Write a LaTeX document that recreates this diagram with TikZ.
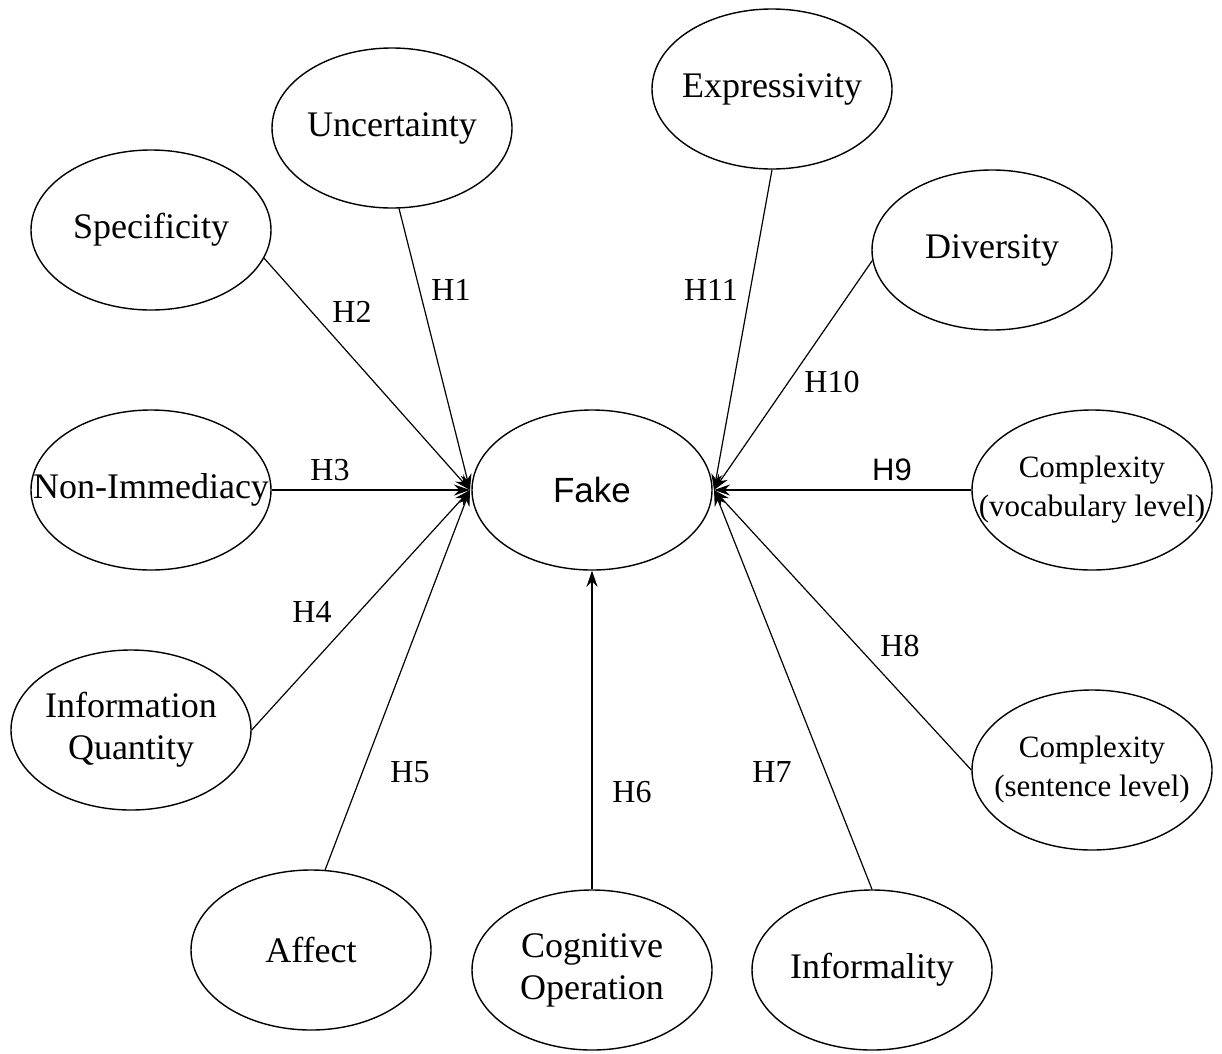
\documentclass[tikz,border=0pt]{standalone}
\usepackage{fontspec}
\setmainfont{Liberation Serif}
\newfontfamily\arialf{Liberation Sans}
\usetikzlibrary{shapes.geometric,arrows.meta}
\begin{document}
\begin{tikzpicture}[x=1pt,y=-1pt,
  var/.style={ellipse,draw,line width=1.4pt,minimum width=240pt,minimum height=160pt,inner sep=0pt,
    label={[align=center,font=\fontsize{36}{42}\selectfont]center:#1}},
  cvar/.style={ellipse,draw,line width=1.4pt,minimum width=240pt,minimum height=160pt,inner sep=0pt,
    label={[align=center,font=\fontsize{31}{39}\selectfont]center:#1}},
  hyp/.style={font=\fontsize{32}{34}\selectfont,inner sep=0pt},
  link/.style={line width=1.2pt,-{Stealth[length=16pt,width=11pt]}}]
\useasboundingbox (0,0) rectangle (1222,1053);
\node[ellipse,draw,line width=1.4pt,minimum width=240pt,minimum height=160pt,inner sep=0pt,font=\arialf\fontsize{35}{38}\selectfont] (fake) at (592,490) {Fake};
\coordinate (L) at (470,490);
\coordinate (R) at (714,490);
\node[var={Uncertainty}] (unc) at (392,128) {};
\node[var={Specificity}] (spec) at (151,230) {};
\node[var={Non-Immediacy}] (nonimm) at (151,490) {};
\node[var={Information\\Quantity}] (info) at (131,730) {};
\node[var={Affect}] (aff) at (311,950) {};
\node[var={Cognitive\\Operation}] (cog) at (592,970) {};
\node[var={Informality}] (infor) at (872,970) {};
\node[cvar={Complexity\\(sentence level)}] (csent) at (1092,770) {};
\node[cvar={Complexity\\(vocabulary level)}] (cvoc) at (1092,490) {};
\node[var={Diversity}] (div) at (992,250) {};
\node[var={Expressivity}] (expr) at (772,89) {};
\draw[link] (unc.-85) -- (L);
\draw[link] (spec.-14) -- (L);
\draw[link] (nonimm.east) -- (L);
\draw[link] (info.east) -- (L);
\draw[link] (aff.80) -- (L);
\draw[link] (cog.north) -- (fake.south);
\draw[link] (infor.north) -- (R);
\draw[link] (csent.west) -- (R);
\draw[link] (cvoc.west) -- (R);
\draw[link] (div.185) -- (R);
\draw[link] (expr.south) -- (R);
\node[hyp] (h1) at (451,290) {H1};
\node[hyp] (h2) at (352,312) {H2};
\node[hyp] (h3) at (330,470) {H3};
\node[hyp] (h4) at (312,612) {H4};
\node[hyp] (h5) at (410,772) {H5};
\node[hyp] (h6) at (632,792) {H6};
\node[hyp] (h7) at (772,772) {H7};
\node[hyp] (h8) at (900,646) {H8};
\node[hyp,font=\arialf\fontsize{31}{34}\selectfont] (h9) at (892,470) {H9};
\node[hyp] (h10) at (832,382) {H10};
\node[hyp] (h11) at (711,290) {H11};
\end{tikzpicture}
\end{document}
